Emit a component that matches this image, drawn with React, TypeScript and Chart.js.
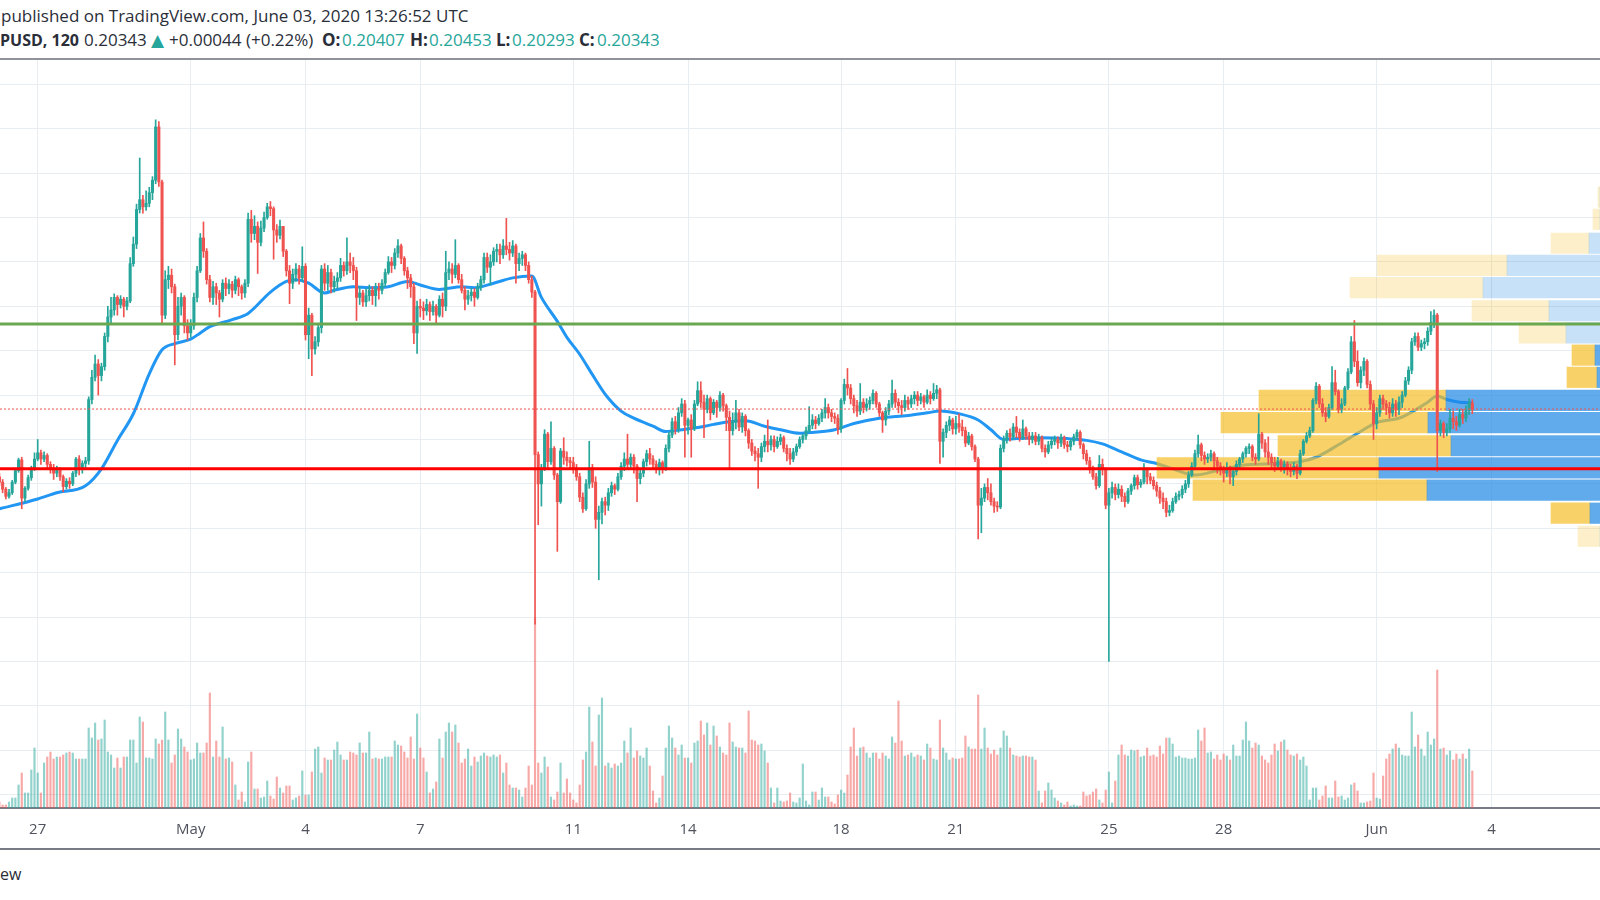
import React, { useEffect, useRef } from 'react';
import { Chart, registerables } from 'chart.js';

Chart.register(...registerables);

// ---- candle data: XRPUSD 2h candles from Apr 26 00:00 (index 0). Prices in units of 0.0001 USD ----
const opens = [
  1958, 1952, 1944, 1936, 1940, 1952, 1965, 1977, 1934, 1945, 1957, 1968,
  1978, 1985, 1978, 1982, 1972, 1968, 1962, 1966, 1958, 1947, 1953, 1950,
  1962, 1978, 1966, 1973, 1976, 2045, 2070, 2085, 2072, 2082, 2116, 2138,
  2146, 2160, 2152, 2158, 2150, 2156, 2198, 2220, 2259, 2270, 2262, 2266,
  2278, 2292, 2352, 2290, 2140, 2180, 2185, 2172, 2118, 2150, 2160, 2128,
  2120, 2128, 2160, 2190, 2227, 2212, 2180, 2160, 2172, 2165, 2158, 2176,
  2170, 2175, 2168, 2180, 2172, 2165, 2176, 2248, 2232, 2240, 2222, 2238,
  2250, 2262, 2260, 2236, 2230, 2240, 2212, 2190, 2176, 2186, 2192, 2182,
  2195, 2118, 2140, 2102, 2110, 2126, 2192, 2176, 2188, 2172, 2178, 2182,
  2196, 2190, 2200, 2196, 2190, 2160, 2165, 2155, 2162, 2168, 2162, 2170,
  2168, 2176, 2188, 2200, 2196, 2210, 2218, 2204, 2190, 2182, 2172, 2120,
  2150, 2148, 2145, 2152, 2144, 2150, 2140, 2158, 2150, 2188, 2192, 2186,
  2196, 2180, 2168, 2158, 2162, 2166, 2160, 2172, 2180, 2205, 2194, 2200,
  2212, 2214, 2208, 2218, 2214, 2210, 2218, 2198, 2204, 2208, 2196, 2180,
  2166, 1983, 1950, 1968, 2006, 1975, 1990, 1960, 1930, 1987, 1980, 1976,
  1974, 1968, 1958, 1935, 1922, 1950, 1968, 1952, 1910, 1918, 1930, 1926,
  1940, 1948, 1944, 1958, 1970, 1978, 1972, 1980, 1970, 1956, 1962, 1975,
  1984, 1978, 1972, 1966, 1974, 1968, 1990, 2005, 2020, 2012, 2030, 2040,
  2016, 2022, 2012, 2040, 2055, 2042, 2034, 2046, 2030, 2042, 2036, 2050,
  2038, 2025, 2010, 2020, 2030, 2014, 2026, 2010, 1996, 1987, 1984, 1980,
  1992, 1998, 1994, 2000, 1992, 1998, 2002, 1990, 1984, 1978, 1986, 1992,
  2000, 2004, 2010, 2016, 2022, 2018, 2024, 2030, 2036, 2030, 2026, 2024,
  2012, 2044, 2062, 2058, 2046, 2038, 2032, 2042, 2036, 2040, 2044, 2052,
  2040, 2030, 2022, 2032, 2040, 2052, 2042, 2038, 2036, 2044, 2040, 2046,
  2050, 2044, 2048, 2042, 2050, 2046, 2052, 2056, 1998, 2008, 2016, 2022,
  2012, 2018, 2014, 2010, 1996, 2004, 1992, 1978, 1926, 1934, 1946, 1940,
  1930, 1925, 1924, 1990, 2000, 2007, 2003, 2014, 2008, 2002, 2012, 2004,
  2000, 2004, 1998, 2002, 1990, 1986, 1994, 1998, 2000, 1996, 2002, 1994,
  1992, 1998, 2003, 2008, 1994, 1984, 1976, 1968, 1958, 1948, 1972, 1966,
  1926, 1940, 1946, 1938, 1944, 1936, 1930, 1942, 1948, 1957, 1949, 1952,
  1966, 1958, 1954, 1948, 1942, 1934, 1930, 1918, 1920, 1930, 1936, 1938,
  1944, 1950, 1960, 1970, 1984, 1994, 1982, 1978, 1980, 1984, 1976, 1970,
  1966, 1962, 1968, 1958, 1964, 1972, 1978, 1984, 1990, 1992, 1980, 1978,
  2006, 1996, 1986, 1980, 1974, 1970, 1976, 1968, 1972, 1966, 1964, 1970,
  1962, 1984, 1998, 2004, 2010, 2044, 2060, 2040, 2030, 2026, 2036, 2064,
  2054, 2034, 2040, 2058, 2076, 2110, 2088, 2064, 2078, 2088, 2062, 2040,
  2018, 2030, 2046, 2040, 2036, 2030, 2040, 2034, 2042, 2050, 2066, 2078,
  2110, 2116, 2104, 2108, 2110, 2122, 2132, 2140, 2010, 2018, 2008, 2012,
  2024, 2020, 2016, 2028, 2024, 2032, 2041,
];
const highs = [
  1962, 1955, 1946, 1944, 1954, 1967, 1979, 1980, 1947, 1960, 1970, 1985,
  2000, 1988, 1986, 1984, 1975, 1972, 1970, 1968, 1960, 1956, 1957, 1964,
  1980, 1982, 1976, 1980, 2048, 2078, 2095, 2090, 2086, 2120, 2150, 2160,
  2164, 2162, 2162, 2160, 2160, 2205, 2228, 2265, 2317, 2275, 2280, 2284,
  2296, 2360, 2358, 2292, 2190, 2195, 2192, 2175, 2160, 2165, 2162, 2135,
  2135, 2165, 2195, 2232, 2245, 2215, 2185, 2178, 2176, 2168, 2180, 2182,
  2180, 2178, 2184, 2182, 2174, 2180, 2255, 2258, 2252, 2245, 2246, 2256,
  2266, 2268, 2262, 2242, 2247, 2240, 2214, 2196, 2192, 2198, 2196, 2217,
  2198, 2148, 2142, 2116, 2130, 2196, 2198, 2196, 2192, 2184, 2188, 2204,
  2200, 2227, 2210, 2205, 2194, 2172, 2168, 2170, 2174, 2172, 2176, 2176,
  2180, 2192, 2206, 2205, 2215, 2225, 2220, 2206, 2194, 2186, 2176, 2156,
  2158, 2155, 2158, 2155, 2156, 2152, 2162, 2165, 2212, 2200, 2198, 2225,
  2198, 2186, 2172, 2168, 2170, 2170, 2176, 2184, 2210, 2210, 2208, 2216,
  2220, 2220, 2225, 2249, 2222, 2224, 2220, 2210, 2212, 2210, 2200, 2184,
  2168, 1986, 1972, 2011, 2008, 2020, 1992, 1962, 1990, 2002, 1986, 1980,
  1980, 1972, 1962, 1940, 1955, 1998, 1972, 1958, 1925, 1934, 1935, 1945,
  1952, 1950, 1962, 1974, 1985, 2006, 1984, 1983, 1972, 1966, 1978, 1988,
  1990, 1982, 1976, 1978, 1976, 1994, 2008, 2024, 2026, 2036, 2046, 2044,
  2024, 2028, 2044, 2065, 2065, 2050, 2050, 2048, 2045, 2044, 2054, 2052,
  2040, 2032, 2030, 2044, 2034, 2030, 2028, 2012, 2000, 1992, 1990, 1996,
  2005, 2022, 2004, 2004, 2003, 2006, 2004, 1994, 1990, 1990, 1995, 2003,
  2006, 2014, 2037, 2028, 2026, 2028, 2034, 2046, 2040, 2034, 2030, 2028,
  2046, 2068, 2080, 2062, 2050, 2044, 2063, 2046, 2046, 2048, 2056, 2054,
  2042, 2032, 2036, 2044, 2067, 2056, 2046, 2044, 2050, 2048, 2050, 2054,
  2054, 2052, 2050, 2056, 2054, 2063, 2061, 2058, 2012, 2020, 2026, 2024,
  2026, 2029, 2022, 2014, 2008, 2006, 1994, 1980, 1945, 1950, 1956, 1950,
  1934, 1930, 1994, 2004, 2010, 2012, 2018, 2026, 2012, 2022, 2014, 2008,
  2008, 2008, 2006, 2004, 1994, 1998, 2002, 2004, 2003, 2006, 2004, 1998,
  2000, 2006, 2011, 2010, 1996, 1988, 1980, 1970, 1962, 1982, 1978, 1968,
  1945, 1952, 1950, 1950, 1948, 1940, 1945, 1950, 1960, 1960, 1955, 1973,
  1968, 1962, 1958, 1952, 1946, 1940, 1934, 1926, 1934, 1940, 1942, 1948,
  1954, 1964, 1974, 1988, 2005, 1996, 1986, 1984, 1988, 1986, 1980, 1974,
  1970, 1974, 1970, 1968, 1976, 1980, 1986, 1992, 1995, 1994, 1984, 2029,
  2008, 2000, 2003, 1984, 1980, 1980, 1978, 1976, 1975, 1972, 1974, 1972,
  1988, 2000, 2008, 2014, 2046, 2064, 2062, 2046, 2036, 2040, 2082, 2078,
  2056, 2046, 2060, 2080, 2116, 2134, 2100, 2082, 2092, 2090, 2066, 2044,
  2036, 2050, 2050, 2044, 2042, 2046, 2044, 2048, 2054, 2070, 2082, 2114,
  2120, 2120, 2112, 2114, 2126, 2144, 2146, 2142, 2022, 2020, 2018, 2034,
  2032, 2026, 2034, 2034, 2038, 2046, 2045,
];
const lows = [
  1948, 1940, 1933, 1934, 1938, 1950, 1963, 1922, 1930, 1943, 1954, 1965,
  1976, 1972, 1975, 1966, 1962, 1955, 1958, 1954, 1941, 1944, 1945, 1948,
  1958, 1960, 1962, 1968, 1972, 2040, 2066, 2050, 2066, 2078, 2110, 2130,
  2140, 2140, 2148, 2138, 2146, 2154, 2195, 2215, 2255, 2255, 2258, 2262,
  2270, 2288, 2285, 2130, 2136, 2170, 2165, 2084, 2112, 2140, 2120, 2112,
  2115, 2124, 2155, 2188, 2205, 2175, 2155, 2152, 2152, 2138, 2155, 2162,
  2164, 2160, 2164, 2162, 2158, 2160, 2172, 2222, 2225, 2187, 2218, 2234,
  2248, 2252, 2203, 2222, 2226, 2206, 2184, 2153, 2170, 2178, 2175, 2178,
  2112, 2091, 2072, 2096, 2105, 2120, 2168, 2168, 2165, 2166, 2170, 2178,
  2184, 2186, 2188, 2180, 2134, 2152, 2150, 2150, 2156, 2152, 2150, 2158,
  2164, 2172, 2186, 2188, 2192, 2205, 2198, 2185, 2170, 2160, 2108, 2097,
  2138, 2135, 2140, 2134, 2140, 2130, 2138, 2138, 2145, 2180, 2176, 2182,
  2176, 2165, 2146, 2152, 2156, 2150, 2158, 2168, 2176, 2188, 2174, 2196,
  2200, 2198, 2204, 2208, 2202, 2206, 2176, 2190, 2196, 2190, 2176, 2160,
  1792, 1904, 1925, 1965, 1968, 1972, 1955, 1874, 1928, 1972, 1970, 1966,
  1962, 1954, 1930, 1918, 1920, 1945, 1946, 1900, 1842, 1905, 1915, 1920,
  1936, 1938, 1942, 1955, 1965, 1966, 1968, 1962, 1930, 1950, 1958, 1970,
  1972, 1966, 1962, 1960, 1962, 1965, 1986, 2002, 2006, 2008, 2026, 1980,
  2006, 1980, 2010, 2038, 2036, 2002, 2030, 2022, 2028, 2025, 2032, 2032,
  2010, 1967, 2005, 2012, 2010, 2008, 2004, 1990, 1982, 1976, 1945, 1975,
  1986, 1986, 1988, 1986, 1990, 1994, 1986, 1976, 1972, 1975, 1982, 1990,
  1996, 2000, 2008, 2012, 2012, 2016, 2020, 2024, 2024, 2020, 2018, 2006,
  2008, 2040, 2050, 2040, 2030, 2026, 2028, 2030, 2032, 2034, 2040, 2036,
  2026, 2008, 2016, 2028, 2036, 2036, 2030, 2028, 2032, 2034, 2036, 2040,
  2038, 2040, 2036, 2040, 2040, 2044, 2046, 1973, 1980, 2002, 2010, 2006,
  2006, 2008, 2004, 1992, 1994, 1988, 1975, 1888, 1895, 1930, 1932, 1926,
  1918, 1919, 1922, 1986, 1996, 1998, 2000, 2002, 1998, 2000, 2000, 1994,
  1996, 1994, 1994, 1986, 1980, 1984, 1990, 1994, 1990, 1992, 1990, 1986,
  1988, 1994, 2000, 1990, 1978, 1972, 1962, 1955, 1944, 1946, 1960, 1922,
  1750, 1934, 1932, 1934, 1930, 1924, 1928, 1938, 1944, 1944, 1946, 1950,
  1950, 1950, 1944, 1936, 1928, 1922, 1913, 1914, 1918, 1928, 1932, 1934,
  1940, 1946, 1958, 1968, 1980, 1976, 1972, 1974, 1976, 1968, 1962, 1960,
  1952, 1958, 1950, 1948, 1960, 1968, 1974, 1980, 1984, 1976, 1972, 1976,
  1990, 1980, 1972, 1968, 1964, 1966, 1964, 1962, 1960, 1958, 1960, 1956,
  1960, 1982, 1996, 2002, 2008, 2040, 2036, 2026, 2020, 2024, 2034, 2050,
  2030, 2030, 2038, 2056, 2074, 2082, 2060, 2058, 2072, 2058, 2034, 2000,
  2012, 2026, 2034, 2028, 2024, 2026, 2026, 2028, 2036, 2048, 2062, 2074,
  2106, 2100, 2100, 2102, 2106, 2118, 2126, 1964, 2004, 2002, 2004, 2008,
  2012, 2010, 2014, 2018, 2020, 2028, 2029,
];
const closes = [
  1952, 1944, 1936, 1940, 1952, 1965, 1977, 1934, 1945, 1957, 1968, 1978,
  1985, 1978, 1982, 1972, 1968, 1962, 1966, 1958, 1947, 1953, 1950, 1962,
  1978, 1966, 1973, 1976, 2045, 2070, 2085, 2072, 2082, 2116, 2138, 2146,
  2160, 2152, 2158, 2150, 2156, 2198, 2220, 2259, 2270, 2262, 2266, 2278,
  2292, 2352, 2290, 2140, 2180, 2185, 2172, 2118, 2150, 2160, 2128, 2120,
  2128, 2160, 2190, 2227, 2212, 2180, 2160, 2172, 2165, 2158, 2176, 2170,
  2175, 2168, 2180, 2172, 2165, 2176, 2248, 2232, 2240, 2222, 2238, 2250,
  2262, 2260, 2236, 2230, 2240, 2212, 2190, 2176, 2186, 2192, 2182, 2195,
  2118, 2140, 2102, 2110, 2126, 2192, 2176, 2188, 2172, 2178, 2182, 2196,
  2190, 2200, 2196, 2190, 2160, 2165, 2155, 2162, 2168, 2162, 2170, 2168,
  2176, 2188, 2200, 2196, 2210, 2218, 2204, 2190, 2182, 2172, 2120, 2150,
  2148, 2145, 2152, 2144, 2150, 2140, 2158, 2150, 2188, 2192, 2186, 2196,
  2180, 2168, 2158, 2162, 2166, 2160, 2172, 2180, 2205, 2194, 2200, 2212,
  2214, 2208, 2218, 2214, 2210, 2218, 2198, 2204, 2208, 2196, 2180, 2166,
  1983, 1950, 1968, 2006, 1975, 1990, 1960, 1930, 1987, 1980, 1976, 1974,
  1968, 1958, 1935, 1922, 1950, 1968, 1952, 1910, 1918, 1930, 1926, 1940,
  1948, 1944, 1958, 1970, 1978, 1972, 1980, 1970, 1956, 1962, 1975, 1984,
  1978, 1972, 1966, 1974, 1968, 1990, 2005, 2020, 2012, 2030, 2040, 2016,
  2022, 2012, 2040, 2055, 2042, 2034, 2046, 2030, 2042, 2036, 2050, 2038,
  2025, 2010, 2020, 2030, 2014, 2026, 2010, 1996, 1987, 1984, 1980, 1992,
  1998, 1994, 2000, 1992, 1998, 2002, 1990, 1984, 1978, 1986, 1992, 2000,
  2004, 2010, 2016, 2022, 2018, 2024, 2030, 2036, 2030, 2026, 2024, 2012,
  2044, 2062, 2058, 2046, 2038, 2032, 2042, 2036, 2040, 2044, 2052, 2040,
  2030, 2022, 2032, 2040, 2052, 2042, 2038, 2036, 2044, 2040, 2046, 2050,
  2044, 2048, 2042, 2050, 2046, 2052, 2056, 1998, 2008, 2016, 2022, 2012,
  2018, 2014, 2010, 1996, 2004, 1992, 1978, 1926, 1934, 1946, 1940, 1930,
  1925, 1924, 1990, 2000, 2007, 2003, 2014, 2008, 2002, 2012, 2004, 2000,
  2004, 1998, 2002, 1990, 1986, 1994, 1998, 2000, 1996, 2002, 1994, 1992,
  1998, 2003, 2008, 1994, 1984, 1976, 1968, 1958, 1948, 1972, 1966, 1926,
  1940, 1946, 1938, 1944, 1936, 1930, 1942, 1948, 1957, 1949, 1952, 1966,
  1958, 1954, 1948, 1942, 1934, 1930, 1918, 1920, 1930, 1936, 1938, 1944,
  1950, 1960, 1970, 1984, 1994, 1982, 1978, 1980, 1984, 1976, 1970, 1966,
  1962, 1968, 1958, 1964, 1972, 1978, 1984, 1990, 1992, 1980, 1978, 2006,
  1996, 1986, 1980, 1974, 1970, 1976, 1968, 1972, 1966, 1964, 1970, 1962,
  1984, 1998, 2004, 2010, 2044, 2060, 2040, 2030, 2026, 2036, 2064, 2054,
  2034, 2040, 2058, 2076, 2110, 2088, 2064, 2078, 2088, 2062, 2040, 2018,
  2030, 2046, 2040, 2036, 2030, 2040, 2034, 2042, 2050, 2066, 2078, 2110,
  2116, 2104, 2108, 2110, 2122, 2132, 2140, 2010, 2018, 2008, 2012, 2024,
  2020, 2016, 2028, 2024, 2032, 2041, 2034,
];
// volume per candle (relative units)
const volumes = [
  6, 3, 3, 6, 10, 10, 23, 35, 15, 15, 38, 60,
  35, 15, 45, 51, 56, 49, 51, 51, 53, 55, 56, 55,
  49, 49, 49, 49, 80, 70, 85, 68, 69, 88, 56, 53,
  40, 50, 40, 51, 51, 68, 68, 45, 91, 86, 50, 50,
  49, 69, 64, 68, 96, 68, 45, 53, 79, 69, 61, 56,
  48, 49, 65, 55, 55, 65, 115, 51, 67, 51, 81, 49,
  50, 46, 23, 8, 16, 6, 46, 56, 19, 19, 10, 11,
  27, 12, 9, 31, 20, 15, 22, 22, 8, 10, 12, 37,
  13, 13, 36, 59, 61, 35, 50, 48, 48, 58, 66, 53,
  48, 48, 56, 55, 53, 65, 55, 55, 76, 49, 50, 49,
  49, 51, 51, 51, 67, 63, 62, 56, 50, 71, 49, 94,
  60, 50, 36, 15, 19, 26, 69, 50, 76, 85, 76, 83,
  65, 45, 49, 59, 42, 51, 46, 52, 55, 52, 51, 53,
  51, 53, 35, 45, 23, 20, 20, 18, 11, 20, 42, 23,
  190, 45, 35, 51, 41, 11, 8, 16, 45, 15, 29, 15,
  8, 5, 23, 48, 56, 101, 66, 42, 93, 110, 42, 45,
  40, 44, 42, 45, 67, 55, 80, 50, 57, 52, 50, 60,
  42, 17, 5, 10, 32, 60, 82, 70, 60, 53, 63, 50,
  50, 45, 65, 67, 87, 73, 85, 63, 82, 72, 61, 55,
  53, 85, 66, 61, 60, 60, 55, 97, 68, 67, 63, 64,
  57, 45, 20, 5, 20, 7, 6, 7, 15, 6, 5, 10,
  44, 7, 3, 16, 16, 8, 20, 11, 11, 6, 4, 13,
  18, 15, 33, 61, 80, 52, 60, 61, 55, 50, 55, 55,
  49, 55, 52, 49, 71, 65, 107, 67, 52, 53, 55, 51,
  53, 52, 48, 64, 60, 49, 48, 88, 60, 55, 48, 50,
  49, 49, 50, 72, 61, 59, 59, 113, 59, 80, 60, 54,
  58, 53, 60, 77, 72, 60, 53, 52, 51, 52, 52, 51,
  51, 48, 17, 5, 17, 25, 18, 10, 7, 5, 3, 6,
  2, 3, 2, 2, 16, 12, 13, 16, 19, 8, 5, 18,
  36, 5, 27, 53, 63, 53, 52, 58, 57, 58, 51, 52,
  60, 52, 53, 51, 62, 54, 70, 70, 64, 51, 52, 50,
  50, 49, 49, 50, 78, 67, 80, 55, 56, 49, 53, 48,
  54, 52, 48, 63, 52, 52, 68, 86, 67, 60, 65, 63,
  52, 48, 45, 53, 64, 57, 66, 68, 58, 53, 52, 54,
  48, 51, 42, 8, 20, 20, 8, 12, 22, 10, 10, 27,
  11, 12, 8, 10, 23, 25, 17, 5, 5, 6, 7, 35,
  10, 9, 32, 49, 54, 59, 64, 60, 53, 52, 52, 96,
  61, 73, 59, 52, 76, 63, 69, 138, 59, 60, 53, 57,
  48, 54, 49, 54, 49, 59, 37,
];

// moving average (candle index, price x 10^4)
const maIndex = [
  0, 12, 18, 27, 32, 37, 42, 47, 51, 55, 60, 63, 66, 73, 78, 85, 90, 93, 97, 102,
  105, 111, 116, 122, 128, 132, 138, 145, 149, 155, 161, 167, 170, 175, 178, 182, 186, 190, 195, 199,
  205, 209, 214, 220, 224, 229, 234, 240, 245, 251, 255, 262, 268, 276, 285, 291, 295, 301, 307, 311,
  315, 319, 327, 335, 341, 346, 352, 358, 363, 368, 375, 382, 390, 401, 408, 413, 420, 426, 432, 439,
  444, 448, 451, 454, 458, 462,
];
const maValue = [
  1922, 1933, 1940, 1948, 1967, 1999, 2029, 2074, 2101, 2108, 2113, 2120, 2127, 2135, 2142, 2166, 2178, 2180, 2176, 2165,
  2168, 2172, 2171, 2172, 2178, 2174, 2169, 2172, 2171, 2176, 2182, 2184, 2160, 2133, 2115, 2096, 2073, 2051, 2032, 2024,
  2015, 2009, 2011, 2014, 2017, 2020, 2021, 2015, 2011, 2007, 2008, 2011, 2018, 2024, 2027, 2030, 2032, 2029, 2022, 2011,
  2000, 2001, 2002, 2001, 1999, 1995, 1986, 1977, 1973, 1967, 1960, 1965, 1971, 1973, 1975, 1980, 1994, 2007, 2019, 2024,
  2033, 2042, 2049, 2045, 2042, 2041,
];

// volume profile (visible range): row price centre (x 10^4), up / down volume, value-area flag
const profilePrice = [2273, 2248, 2221, 2196, 2171, 2145, 2120, 2095, 2070, 2044, 2019, 1993, 1968, 1943, 1917, 1891];
const profileUp = [0, 0, 1.1, 9.3, 11.7, 5.1, 3.4, 0.5, 0.3, 15.4, 17.2, 14.9, 22.1, 17.3, 1.0, 0];
const profileDown = [0.2, 0.7, 3.8, 13.0, 13.3, 7.7, 4.7, 2.3, 3.0, 18.7, 20.7, 17.3, 22.2, 23.4, 3.9, 2.2];
const profileValueArea = [0, 0, 0, 0, 0, 0, 0, 1, 1, 1, 1, 1, 1, 1, 1, 0];

// axis ticks
const timeTickIndex = [12, 60, 96, 132, 180, 216, 264, 300, 348, 384, 432, 468];
const timeTickLabels = ['27', 'May', '4', '7', '11', '14', '18', '21', '25', '28', 'Jun', '4'];
const priceGrid = [0.16, 0.165, 0.17, 0.175, 0.18, 0.185, 0.19, 0.195, 0.2, 0.205, 0.21, 0.215, 0.22, 0.225, 0.23, 0.235, 0.24];

// drawn levels
const resistanceLevel = 0.213;
const supportLevel = 0.1967;
const lastPrice = 0.20343;

const PRICE_UNIT = 10000;
const px = (v: number) => v / PRICE_UNIT;

const UP = '#26a69a';
const DOWN = '#ef5350';
const FONT = "'Open Sans', 'Noto Sans', sans-serif";

export default function App() {
  const canvasRef = useRef<HTMLCanvasElement>(null);

  useEffect(() => {
    const xMin = 0.175;
    const xMax = 502.05;
    const isUp = closes.map((c, i) => c >= opens[i]);
    const candleColors = isUp.map((u) => (u ? UP : DOWN));
    const volColors = isUp.map((u) => (u ? 'rgba(38,166,154,0.5)' : 'rgba(239,83,80,0.5)'));
    const hline = (y: number) => [
      { x: xMin, y },
      { x: xMax, y },
    ];

    const chart = new Chart(canvasRef.current as HTMLCanvasElement, {
      type: 'bar',
      data: {
        datasets: [
          {
            type: 'line',
            label: 'resistance',
            data: hline(resistanceLevel),
            borderColor: '#6aa84f',
            borderWidth: 3,
            pointRadius: 0,
            order: 0,
          },
          {
            type: 'line',
            label: 'support',
            data: hline(supportLevel),
            borderColor: '#ff0000',
            borderWidth: 3,
            pointRadius: 0,
            order: 0,
          },
          {
            type: 'line',
            label: 'last',
            data: hline(lastPrice),
            borderColor: DOWN,
            borderWidth: 1,
            borderDash: [2, 2],
            pointRadius: 0,
            order: 0,
          },
          {
            type: 'bar',
            label: 'bodies',
            data: closes.map((c, i) => ({ x: i, y: [px(opens[i]), px(c)] })),
            backgroundColor: candleColors,
            barThickness: 2.4,
            minBarLength: 1,
            grouped: false,
            order: 1,
          },
          {
            type: 'bar',
            label: 'wicks',
            data: closes.map((_c, i) => ({ x: i, y: [px(lows[i]), px(highs[i])] })),
            backgroundColor: candleColors,
            barThickness: 1,
            grouped: false,
            order: 2,
          },
          {
            type: 'bar',
            label: 'profile up',
            indexAxis: 'y',
            xAxisID: 'xp',
            yAxisID: 'y',
            data: profilePrice.map((p, k) => ({ y: px(p), x: [0, profileUp[k]] })),
            backgroundColor: profileValueArea.map((v) => (v ? 'rgba(30,136,229,0.7)' : 'rgba(30,136,229,0.25)')),
            barThickness: 20.5,
            grouped: false,
            order: 3,
          },
          {
            type: 'bar',
            label: 'profile down',
            indexAxis: 'y',
            xAxisID: 'xp',
            yAxisID: 'y',
            data: profilePrice.map((p, k) => ({ y: px(p), x: [profileUp[k], profileUp[k] + profileDown[k]] })),
            backgroundColor: profileValueArea.map((v) => (v ? 'rgba(245,190,40,0.7)' : 'rgba(245,190,40,0.25)')),
            barThickness: 20.5,
            grouped: false,
            order: 3,
          },
          {
            type: 'line',
            label: 'MA',
            data: maIndex.map((x, k) => ({ x, y: px(maValue[k]) })),
            borderColor: '#2196f3',
            borderWidth: 3,
            pointRadius: 0,
            cubicInterpolationMode: 'monotone',
            order: 5,
          },
          {
            type: 'bar',
            label: 'volume',
            yAxisID: 'yv',
            data: volumes.map((v, i) => ({ x: i, y: v })),
            backgroundColor: volColors,
            barThickness: 1.5,
            grouped: false,
            order: 6,
          },
        ] as any,
      },
      options: {
        responsive: false,
        animation: false,
        devicePixelRatio: 1,
        events: [],
        layout: { padding: 0 },
        plugins: {
          legend: { display: false },
          tooltip: { enabled: false },
          title: { display: false },
        },
        scales: {
          x: {
            type: 'linear',
            position: 'bottom',
            min: xMin,
            max: xMax,
            offset: false,
            afterBuildTicks: (scale: any) => {
              scale.ticks = timeTickIndex.map((v) => ({ value: v }));
            },
            afterFit: (scale: any) => {
              scale.height = 44;
            },
            ticks: {
              autoSkip: false,
              maxRotation: 0,
              minRotation: 0,
              padding: 13,
              color: '#50535e',
              font: { family: FONT, size: 15 },
              callback: (v: any) => {
                const k = timeTickIndex.indexOf(Number(v));
                return k >= 0 ? timeTickLabels[k] : '';
              },
            },
            grid: { color: '#e8edf2', lineWidth: 1, drawTicks: false, offset: false },
            border: { display: true, color: '#787b86', width: 2 },
          },
          y: {
            type: 'linear',
            position: 'left',
            min: 0.158502,
            max: 0.242736,
            offset: false,
            beginAtZero: false,
            afterBuildTicks: (scale: any) => {
              scale.ticks = priceGrid.map((v) => ({ value: v }));
            },
            afterFit: (scale: any) => {
              scale.width = 0;
            },
            ticks: { display: false },
            grid: { color: '#e8edf2', lineWidth: 1, drawTicks: false, offset: false },
            border: { display: false },
          },
          yv: { type: 'linear', display: false, min: 0, max: 748, offset: false, grid: { offset: false } },
          xp: {
            type: 'linear',
            display: false,
            min: 0,
            max: 160,
            reverse: true,
            offset: false,
            grid: { offset: false },
          },
        },
      } as any,
    });
    return () => chart.destroy();
  }, []);

  const bold: React.CSSProperties = { fontWeight: 700, position: 'absolute', top: 0 };
  const reg: React.CSSProperties = { position: 'absolute', top: 0 };
  const teal: React.CSSProperties = { color: UP, position: 'absolute', top: 0 };

  return (
    <div
      style={{
        position: 'fixed',
        left: 0,
        top: 0,
        width: 1600,
        height: 900,
        background: '#ffffff',
        overflow: 'hidden',
        fontFamily: FONT,
        color: '#2a2e39',
      }}
    >
      <div style={{ position: 'absolute', left: 1, top: 6, fontSize: 17, lineHeight: '20px', whiteSpace: 'pre' }}>
        published on TradingView.com, June 03, 2020 13:26:52 UTC
      </div>
      <div
        style={{
          position: 'absolute',
          left: 0,
          top: 30,
          width: 700,
          height: 20,
          fontSize: 17,
          lineHeight: '20px',
          whiteSpace: 'pre',
        }}
      >
        <span style={{ ...bold, left: 0, fontSize: 16 }}>PUSD, 120</span>
        <span style={{ ...reg, left: 84 }}>0.20343</span>
        <span style={{ ...teal, left: 151, fontFamily: "'DejaVu Sans', sans-serif", fontSize: 17 }}>▲</span>
        <span style={{ ...reg, left: 169 }}>+0.00044 (+0.22%)</span>
        <span style={{ ...bold, left: 322 }}>O:</span>
        <span style={{ ...teal, left: 342 }}>0.20407</span>
        <span style={{ ...bold, left: 410 }}>H:</span>
        <span style={{ ...teal, left: 429 }}>0.20453</span>
        <span style={{ ...bold, left: 496 }}>L:</span>
        <span style={{ ...teal, left: 512 }}>0.20293</span>
        <span style={{ ...bold, left: 579 }}>C:</span>
        <span style={{ ...teal, left: 597 }}>0.20343</span>
      </div>
      <div style={{ position: 'absolute', left: 0, top: 58, width: 1600, height: 2, background: '#8f929b' }} />
      <canvas
        ref={canvasRef}
        width={1600}
        height={792}
        style={{ position: 'absolute', left: 0, top: 60, width: 1600, height: 792 }}
      />
      <div style={{ position: 'absolute', left: 0, top: 848, width: 1600, height: 2, background: '#787b86' }} />
      <div style={{ position: 'absolute', left: 0, top: 864, fontSize: 16, lineHeight: '20px' }}>ew</div>
    </div>
  );
}
